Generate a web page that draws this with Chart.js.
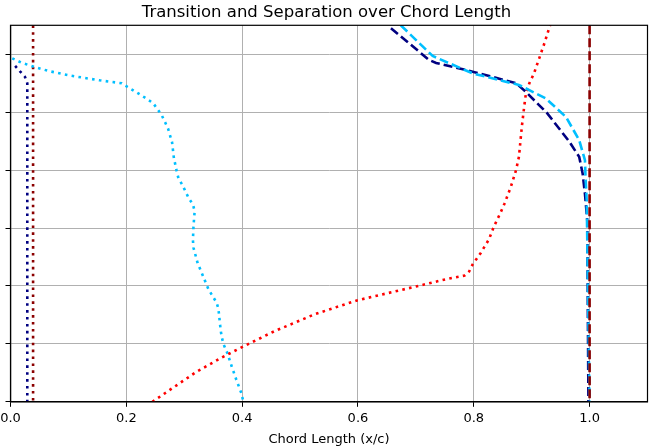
<!DOCTYPE html>
<html>
<head>
<meta charset="utf-8">
<script src="https://cdn.jsdelivr.net/npm/chart.js@4/dist/chart.umd.min.js"></script>
<style>
  html, body { margin: 0; padding: 0; background: #fff; }
  #wrap { width: 657px; height: 447px; }
</style>
</head>
<body>
<div id="wrap"><canvas id="myChart" width="657" height="447"></canvas></div>
<script>
// x tick labels along the chord
const xTicks = [0.0, 0.2, 0.4, 0.6, 0.8, 1.0];

// navy dotted (transition near leading edge)
const navyDotX = [0.008, 0.016, 0.025, 0.029, 0.029];
const navyDotY = [5.80, 5.71, 5.61, 5.50, 0.0];

// dark red dotted (vertical line)
const redDotX = [0.039, 0.039];
const redDotY = [6.5, 0.0];

// sky blue dotted
const skyDotX = [0.003, 0.020, 0.042, 0.066, 0.104, 0.154, 0.192, 0.203, 0.223, 0.246,
    0.254, 0.261, 0.272, 0.279, 0.282, 0.287, 0.290, 0.297, 0.308, 0.315,
    0.318, 0.316, 0.315, 0.316, 0.323, 0.332, 0.342, 0.356, 0.359, 0.363,
    0.365, 0.368, 0.375, 0.382, 0.390, 0.399, 0.402];
const skyDotY = [5.93, 5.85, 5.78, 5.71, 5.63, 5.55, 5.50, 5.43, 5.31, 5.16,
    5.05, 4.95, 4.72, 4.48, 4.22, 3.98, 3.86, 3.74, 3.51, 3.41,
    3.29, 3.03, 2.79, 2.66, 2.40, 2.18, 1.94, 1.71, 1.61, 1.23,
    1.11, 0.99, 0.83, 0.61, 0.38, 0.14, 0.0];

// bright red dotted
const brightDotX = [0.245, 0.320, 0.364, 0.399, 0.456, 0.525, 0.598, 0.683, 0.758, 0.784,
    0.792, 0.798, 0.812, 0.826, 0.835, 0.846, 0.853, 0.864, 0.873, 0.878,
    0.883, 0.887, 0.890, 0.896, 0.904, 0.913, 0.922, 0.932];
const brightDotY = [0.0, 0.51, 0.76, 0.94, 1.22, 1.51, 1.75, 1.95, 2.13, 2.18,
    2.25, 2.37, 2.57, 2.80, 3.03, 3.26, 3.42, 3.71, 4.00, 4.23,
    4.75, 5.09, 5.32, 5.50, 5.67, 5.93, 6.19, 6.51];

// navy dashed
const navyDashX = [0.657, 0.723, 0.735, 0.798, 0.873, 0.890, 0.927, 0.965, 0.982, 0.988, 0.992, 0.996, 0.998];
const navyDashY = [6.45, 5.90, 5.85, 5.70, 5.50, 5.35, 4.98, 4.49, 4.23, 3.94, 3.59, 3.13, 0.0];

// sky blue dashed
const skyDashX = [0.674, 0.729, 0.798, 0.878, 0.924, 0.959, 0.982, 0.992, 0.993, 0.995, 1.0];
const skyDashY = [6.50, 5.97, 5.67, 5.47, 5.24, 4.92, 4.52, 4.17, 3.88, 3.48, 0.0];

// dark red dashed (trailing edge)
const redDashX = [1.0, 1.0];
const redDashY = [6.5, 0.0];

const pts = (xs, ys) => xs.map((x, i) => ({ x: x, y: ys[i] }));

const dotted = (color, xs, ys) => ({
    data: pts(xs, ys),
    borderColor: color,
    backgroundColor: color,
    borderWidth: 2.6,
    borderDash: [2.6, 4.3],
    borderCapStyle: 'butt',
    pointRadius: 0,
    tension: 0,
    fill: false
});
const dashed = (color, xs, ys) => ({
    data: pts(xs, ys),
    borderColor: color,
    backgroundColor: color,
    borderWidth: 2.6,
    borderDash: [9, 4],
    borderCapStyle: 'butt',
    pointRadius: 0,
    tension: 0,
    fill: false
});

// draws the top and right spines too
const boxPlugin = {
    id: 'box',
    afterDraw(chart) {
        const a = chart.chartArea;
        const c = chart.ctx;
        c.save();
        c.strokeStyle = '#000';
        c.lineWidth = 1.2;
        c.strokeRect(a.left, a.top, a.right - a.left, a.bottom - a.top);
        c.restore();
    }
};

const ctx = document.getElementById('myChart').getContext('2d');
const chart = new Chart(ctx, {
    type: 'line',
    data: {
        // first dataset ends up on top
        datasets: [
            dashed('#8B0000', redDashX, redDashY),
            dashed('#00BFFF', skyDashX, skyDashY),
            dashed('#000080', navyDashX, navyDashY),
            dotted('#FF0000', brightDotX, brightDotY),
            dotted('#00BFFF', skyDotX, skyDotY),
            dotted('#8B0000', redDotX, redDotY),
            dotted('#000080', navyDotX, navyDotY)
        ]
    },
    options: {
        responsive: false,
        devicePixelRatio: 1,
        animation: false,
        layout: { padding: { left: 5.5, right: 9.5, top: 0, bottom: 0 } },
        plugins: {
            legend: { display: false },
            tooltip: { enabled: false },
            title: {
                display: true,
                text: 'Transition and Separation over Chord Length',
                color: '#000',
                font: { family: 'DejaVu Sans', size: 16.5, weight: 'normal' },
                padding: { top: 2.5, bottom: 3 }
            }
        },
        scales: {
            x: {
                type: 'linear',
                min: 0,
                max: 1.1,
                afterBuildTicks: (axis) => { axis.ticks = xTicks.map(v => ({ value: v })); },
                // let the "0.0" label hang over the left edge like the original
                afterFit: (axis) => { axis.paddingLeft = 0; axis.paddingRight = 0; },
                ticks: {
                    color: '#000',
                    font: { family: 'DejaVu Sans', size: 13 },
                    padding: 4,
                    maxRotation: 0,
                    callback: (v) => Number(v).toFixed(1)
                },
                grid: { color: '#b0b0b0', lineWidth: 1, tickColor: '#000', tickLength: 5 },
                border: { color: '#000', width: 1.2 },
                title: {
                    display: true,
                    text: 'Chord Length (x/c)',
                    color: '#000',
                    font: { family: 'DejaVu Sans', size: 13 },
                    padding: { top: 1, bottom: 0 }
                }
            },
            y: {
                type: 'linear',
                min: 0,
                max: 6.5,
                ticks: { display: false, stepSize: 1, includeBounds: false },
                grid: { color: '#b0b0b0', lineWidth: 1, tickColor: '#000', tickLength: 5 },
                border: { color: '#000', width: 1.2 }
            }
        }
    },
    plugins: [boxPlugin]
});
</script>
</body>
</html>
